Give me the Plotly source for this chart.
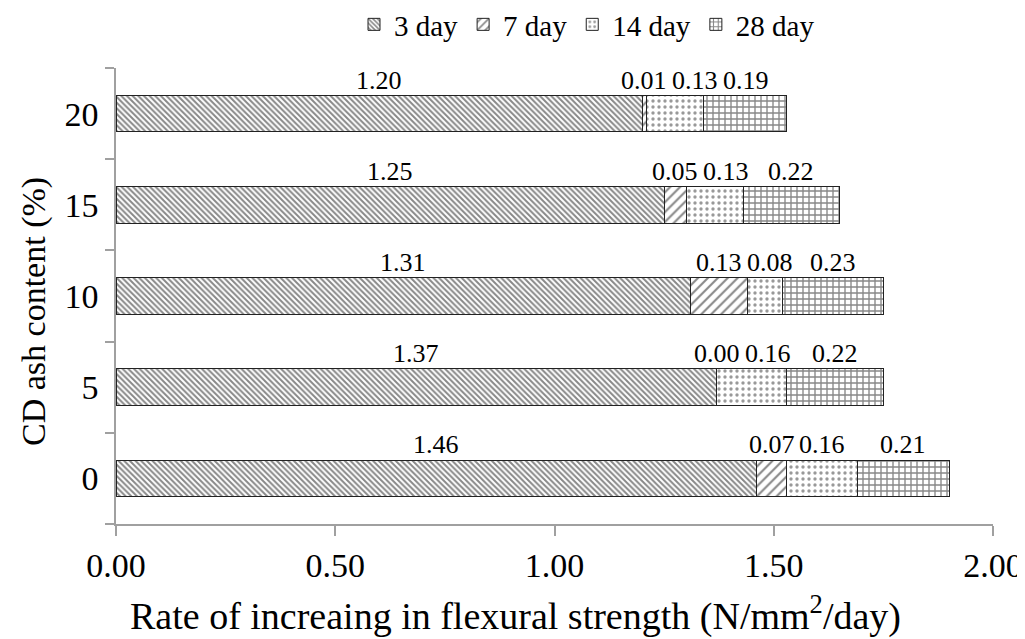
import plotly.graph_objects as go

categories = ["0", "5", "10", "15", "20"]
day3 = [1.46, 1.37, 1.31, 1.25, 1.20]
day7 = [0.07, 0.00, 0.13, 0.05, 0.01]
day14 = [0.16, 0.16, 0.08, 0.13, 0.13]
day28 = [0.21, 0.22, 0.23, 0.22, 0.19]
series_names = ["3 day", "7 day", "14 day", "28 day"]
x_ticks = [0.0, 0.5, 1.0, 1.5, 2.0]

FONT = "Liberation Serif, Times New Roman, serif"
LABEL_SIZE = 26
W, H = 1017, 631
ML, MR, MT, MB = 108, 32, 60, 115
OFF = 8  # page offset of the figure inside the browser window
series = [day3, day7, day14, day28]
ypos = list(range(len(categories)))
patterns = [
    dict(shape="\\", size=4, solidity=0.5, fgcolor="#111111", bgcolor="white"),
    dict(shape="/", size=7, solidity=0.3, fgcolor="#111111", bgcolor="white"),
    dict(shape=".", size=6, solidity=0.25, fgcolor="#333333", bgcolor="white"),
    dict(shape="+", size=6, solidity=0.4, fgcolor="#111111", bgcolor="white"),
]

fig = go.Figure()
for name, vals, pat in zip(series_names, series, patterns):
    fig.add_trace(go.Bar(
        y=ypos, x=vals, name=name, orientation="h",
        marker=dict(color="white", pattern=pat,
                    line=dict(color="#222222", width=1)),
        width=0.4,
    ))

plot_w_px = W - ML - MR
plot_h_px = H - MT - MB


def px_x(sx):
    return (sx - OFF - ML) / plot_w_px


def px_y(sy):
    return (MT + plot_h_px - (sy - OFF)) / plot_h_px


# value labels above each segment (pushed right if they would collide)
label_w = 1.75 * LABEL_SIZE / plot_w_px * 2.0 + 0.012
for ci, yv in enumerate(ypos):
    prev = None
    for si, vals in enumerate(series):
        start = sum(series[k][ci] for k in range(si))
        center = start + vals[ci] / 2
        if prev is not None and center - prev < label_w:
            center = prev + label_w
        prev = center
        fig.add_annotation(x=center, y=yv, xref="x", yref="y",
                           text=f"{vals[ci]:.2f}", showarrow=False,
                           yanchor="bottom", yshift=17,
                           font=dict(family=FONT, size=LABEL_SIZE, color="black"))

# axis titles as placed in the reference
fig.add_annotation(x=px_x(515), y=px_y(613), xref="paper", yref="paper",
                   xanchor="center", yanchor="middle",
                   text="Rate of increaing in flexural strength (N/mm<sup>2</sup>/day)",
                   showarrow=False, font=dict(family=FONT, size=38, color="black"))
fig.add_annotation(x=px_x(34), y=px_y(312), xref="paper", yref="paper",
                   xanchor="center", yanchor="middle", textangle=-90,
                   text="CD ash content (%)",
                   showarrow=False, font=dict(family=FONT, size=34, color="black"))

fig.update_layout(
    width=W, height=H,
    margin=dict(l=ML, r=MR, t=MT, b=MB, autoexpand=False),
    paper_bgcolor="white", plot_bgcolor="white",
    barmode="stack",
    font=dict(family=FONT, color="black"),
    showlegend=True,
    legend=dict(orientation="h", x=px_x(587), xanchor="center",
                y=px_y(-1), yanchor="top",
                font=dict(family=FONT, size=29), traceorder="normal",
                itemwidth=30, bgcolor="rgba(0,0,0,0)"),
)
fig.update_xaxes(
    range=[0, 2.0], tickvals=x_ticks, ticktext=[f"{v:.2f}" for v in x_ticks],
    showgrid=False, zeroline=False, showline=True, linecolor="#A0A0A0", linewidth=1.5,
    ticks="outside", ticklen=10, tickcolor="#A0A0A0", tickwidth=1.5,
    tickfont=dict(family=FONT, size=34, color="black"),
    automargin=False,
)
fig.update_yaxes(
    range=[-0.5, len(categories) - 0.5],
    tickvals=ypos, ticktext=categories,
    showgrid=False, zeroline=False, showline=True, linecolor="#A0A0A0", linewidth=1.5,
    ticks="outside", ticklen=9, tickcolor="rgba(0,0,0,0)", tickwidth=1.5,
    minor=dict(tickvals=[i - 0.5 for i in range(len(categories) + 1)],
               ticks="outside", ticklen=9, tickcolor="#A0A0A0", tickwidth=1.5,
               showgrid=False),
    tickfont=dict(family=FONT, size=34, color="black"),
    automargin=False,
)

fig.write_html("out.html")
